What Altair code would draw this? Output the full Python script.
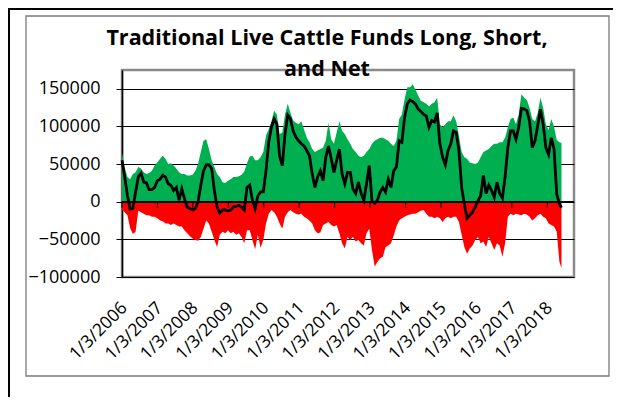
import altair as alt
import pandas as pd

start_date = "2006-01-03"
n_steps = 162
last_date = "2018-05-29"
tick_years = list(range(2006, 2019))
y_ticks = [-100000, -50000, 0, 50000, 100000, 150000]
title_lines = ["Traditional Live Cattle Funds Long, Short,", "and Net"]

long_pos = [
    65000, 45000, 33000, 30000, 37000, 39000, 46000, 44000, 39000, 37000, 38000, 41000, 48000,
    52000, 57000, 61000, 57000, 50000, 51000, 48000, 44000, 39000, 37000, 37000, 35000, 35000,
    36000, 41000, 50000, 66000, 81000, 83000, 70000, 55000, 46000, 37000, 33000, 26000, 25000,
    28000, 30000, 33000, 33000, 34000, 36000, 40000, 51000, 60000, 61000, 55000, 55000, 59000,
    66000, 88000, 96000, 107000, 121000, 116000, 90000, 92000, 116000, 130000, 118000, 108000, 105000,
    103000, 107000, 96000, 85000, 79000, 70000, 66000, 68000, 70000, 72000, 81000, 105000, 83000,
    77000, 92000, 107000, 94000, 90000, 83000, 77000, 70000, 66000, 61000, 59000, 61000, 66000,
    70000, 77000, 81000, 83000, 85000, 85000, 83000, 81000, 77000, 74000, 81000, 110000, 116000,
    136000, 152000, 152000, 156000, 149000, 141000, 134000, 132000, 130000, 127000, 130000, 132000, 138000,
    103000, 99000, 103000, 107000, 107000, 115000, 107000, 88000, 66000, 59000, 57000, 52000, 51000,
    50000, 52000, 59000, 66000, 68000, 70000, 74000, 77000, 77000, 79000, 79000, 85000, 99000,
    110000, 112000, 103000, 116000, 143000, 138000, 135000, 125000, 110000, 107000, 118000, 138000, 125000,
    103000, 95000, 110000, 100000, 82000, 79000, 78000,
]

short_pos = [
    -11000, -14000, -18000, -35000, -43000, -40000, -12000, -14000, -16000, -18000, -18000, -20000, -20000,
    -22000, -25000, -26000, -29000, -29000, -31000, -29000, -31000, -33000, -33000, -38000, -42000, -46000,
    -49000, -51000, -52000, -47000, -36000, -25000, -29000, -40000, -51000, -60000, -44000, -40000, -42000,
    -38000, -42000, -40000, -44000, -42000, -47000, -55000, -38000, -38000, -51000, -63000, -44000, -61000,
    -51000, -29000, -16000, -11000, -14000, -20000, -29000, -36000, -20000, -14000, -11000, -14000, -16000,
    -17000, -16000, -20000, -22000, -25000, -29000, -38000, -42000, -41000, -31000, -29000, -27000, -31000,
    -33000, -31000, -42000, -55000, -62000, -47000, -51000, -47000, -53000, -51000, -55000, -58000, -42000,
    -36000, -64000, -86000, -80000, -75000, -73000, -60000, -58000, -55000, -45000, -33000, -25000, -22000,
    -20000, -18000, -17000, -16000, -16000, -14000, -12000, -11000, -16000, -20000, -20000, -22000, -20000,
    -22000, -27000, -22000, -20000, -22000, -20000, -20000, -27000, -44000, -60000, -69000, -62000, -58000,
    -51000, -47000, -55000, -53000, -60000, -47000, -55000, -64000, -55000, -58000, -73000, -55000, -20000,
    -16000, -18000, -16000, -17000, -18000, -16000, -17000, -20000, -25000, -22000, -18000, -16000, -20000,
    -22000, -29000, -31000, -33000, -40000, -80000, -88000,
]

net_pos = [
    55000, 33000, 8000, -10000, -9000, 13000, 33000, 38000, 26000, 25000, 16000, 16000, 19000,
    28000, 30000, 35000, 33000, 24000, 22000, 15000, 19000, 2000, 17000, 4000, -7000, -9000,
    -11000, -9000, 0, 22000, 41000, 49000, 49000, 44000, 15000, -7000, -15000, -11000, -11000,
    -12000, -11000, -7000, -6000, -5000, -7000, -11000, 19000, 22000, 2000, -9000, 8000, 13000,
    13000, 41000, 79000, 99000, 110000, 103000, 61000, 48000, 90000, 115000, 110000, 94000, 86000,
    81000, 77000, 74000, 68000, 61000, 37000, 19000, 33000, 41000, 28000, 59000, 74000, 57000,
    39000, 55000, 70000, 37000, 24000, 39000, 39000, 17000, 11000, 26000, 11000, 2000, 24000,
    48000, 1000, -2000, 2000, 13000, 19000, 13000, 30000, 19000, 41000, 46000, 81000, 79000,
    112000, 130000, 135000, 133000, 130000, 123000, 120000, 116000, 114000, 99000, 108000, 106000, 118000,
    77000, 59000, 49000, 68000, 77000, 94000, 92000, 68000, 19000, -3000, -22000, -18000, -14000,
    -7000, 1000, 8000, 35000, 11000, 22000, 15000, 6000, 26000, 11000, 5000, 33000, 72000,
    94000, 94000, 83000, 99000, 124000, 123000, 121000, 107000, 72000, 81000, 101000, 123000, 103000,
    72000, 63000, 85000, 70000, 10000, -3000, -8000,
]

dates = [d.strftime("%Y-%m-%d") for d in pd.date_range(start_date, periods=n_steps, freq="28D")] + [last_date]
assert len(dates) == len(long_pos) == len(short_pos) == len(net_pos), (len(dates), len(long_pos), len(short_pos), len(net_pos))

df = pd.DataFrame({"date": dates, "long": long_pos, "short": short_pos, "net": net_pos})
tick_dates = [f"{y}-01-03" for y in tick_years]
ticks_df = pd.DataFrame({"date": tick_dates})


def ms(s):
    return int(pd.Timestamp(s, tz="UTC").timestamp() * 1000)


xscale = alt.Scale(type="utc", domain=[ms("2006-01-03"), ms("2018-10-05")], nice=False)
yscale = alt.Scale(domain=[-100000, 175000], nice=False, zero=False)

FONT = "Open Sans"

xaxis = alt.Axis(
    values=[ms(d) for d in tick_dates], format="%-m/%-d/%Y", labelAngle=315,
    labelAlign="right", labelBaseline="middle", labelFont=FONT, labelFontSize=17.5,
    labelColor="black", labelPadding=28, labelOffset=2, labelOverlap=False,
    labelBound=False, labelFlush=False, ticks=False, tickSize=0, domain=False,
    grid=False, title=None,
)
yaxis = alt.Axis(
    values=y_ticks, format="d", labelFont=FONT, labelFontSize=18, labelColor="black",
    labelPadding=16, tickSize=6, tickColor="black", domainColor="black", domainWidth=1.5,
    gridColor="black", gridWidth=1, title=None, labelOverlap=False,
)

X = alt.X("date:T", scale=xscale, axis=xaxis)

one = alt.Data(values=[{"k": 1}])

outer_black = alt.Chart(one).mark_rect(fillOpacity=0, stroke="black", strokeWidth=2).encode(
    x=alt.value(-113), x2=alt.value(700), y=alt.value(-61), y2=alt.value(500)
)
outer_gray = alt.Chart(one).mark_rect(fillOpacity=0, stroke="#7a7a7a", strokeWidth=1.3).encode(
    x=alt.value(-96), x2=alt.value(487), y=alt.value(-54), y2=alt.value(306)
)
title1 = alt.Chart(one).mark_text(
    font=FONT, fontSize=21.5, fontWeight="bold", color="black", align="center", baseline="alphabetic"
).encode(x=alt.value(205), y=alt.value(-25), text=alt.value(title_lines[0]))
title2 = alt.Chart(one).mark_text(
    font=FONT, fontSize=21.5, fontWeight="bold", color="black", align="center", baseline="alphabetic"
).encode(x=alt.value(205), y=alt.value(6), text=alt.value(title_lines[1]))

base = alt.Chart(df)
long_area = base.mark_area(color="#00B050").encode(
    x=X,
    y=alt.Y("long:Q", scale=yscale, axis=yaxis),
    y2=alt.datum(0),
)
short_area = base.mark_area(color="#FF0000").encode(
    x=X,
    y=alt.Y("short:Q", scale=yscale, axis=yaxis),
    y2=alt.datum(0),
)
zero_rule = alt.Chart(ticks_df).mark_rule(color="black", strokeWidth=1).encode(
    y=alt.datum(0, scale=yscale, axis=yaxis)
)
x_ticks = alt.Chart(ticks_df).mark_rule(color="black", strokeWidth=1, y2Offset=6).encode(
    x=X,
    y=alt.datum(0, scale=yscale, axis=yaxis),
    y2=alt.datum(0),
)
net_line = base.mark_line(color="black", strokeWidth=2.8).encode(
    x=X,
    y=alt.Y("net:Q", scale=yscale, axis=yaxis),
)

chart = alt.layer(
    outer_black, outer_gray, long_area, short_area, zero_rule, x_ticks, net_line, title1, title2
).properties(
    width=452,
    height=207,
    autosize=alt.AutoSizeParams(type="none"),
    padding={"left": 114, "top": 62, "right": 39, "bottom": 120},
).configure_view(stroke="#8a8a8a", strokeWidth=2.5).configure_axis(labelOverlap=False)

chart.save("out.html", embed_options={"renderer": "svg", "actions": False})
